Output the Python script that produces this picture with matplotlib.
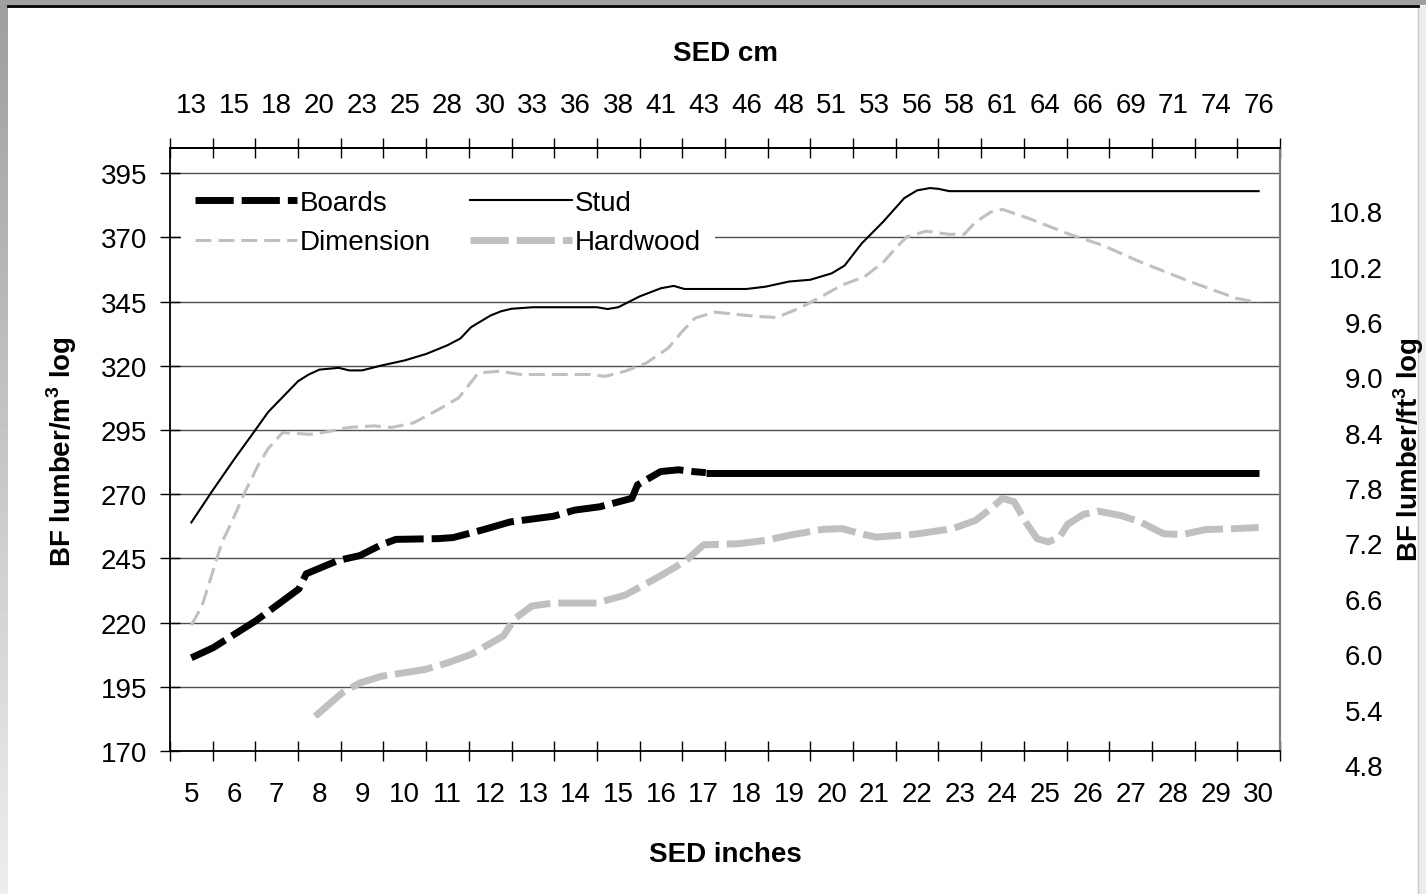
import numpy as np
import matplotlib
matplotlib.use('Agg')
import matplotlib.pyplot as plt
from matplotlib.patches import Rectangle
from matplotlib.ticker import FixedLocator

plt.rcParams['font.family'] = ['Liberation Sans', 'DejaVu Sans']
plt.rcParams['mathtext.fontset'] = 'custom'
plt.rcParams['mathtext.rm'] = 'Liberation Sans'
plt.rcParams['mathtext.bf'] = 'Liberation Sans:bold'

# --- data (SED in inches, BF lumber per m3 log) ---
inches = list(range(5, 31))
cm_labels = ['13', '15', '18', '20', '23', '25', '28', '30', '33', '36', '38', '41', '43',
             '46', '48', '51', '53', '56', '58', '61', '64', '66', '69', '71', '74', '76']
left_ticks = [170, 195, 220, 245, 270, 295, 320, 345, 370, 395]
right_ticks = [4.8, 5.4, 6.0, 6.6, 7.2, 7.8, 8.4, 9.0, 9.6, 10.2, 10.8]

boards_x = [5, 5.51, 6.51, 7.52, 7.69, 8.44, 8.95, 9.45, 9.79, 10.79, 11.13, 11.8, 12.47,
            13.06, 13.48, 13.98, 14.57, 15.32, 15.45, 15.99, 16.41, 16.75, 17.05, 30]
boards_y = [206.3, 210.2, 220.7, 233.1, 239, 244.2, 246.1, 250.3, 252.4, 252.7, 253.1, 256,
            259.2, 260.5, 261.4, 263.8, 265.1, 268.4, 273.6, 278.8, 279.5, 278.8, 278.4, 278.4]

stud_x = [5, 5.5, 6, 6.5, 6.8, 7.5, 7.75, 8, 8.45, 8.7, 9, 9.45, 10, 10.5, 11, 11.3, 11.55,
          12, 12.25, 12.5, 13, 14.5, 14.75, 15, 15.5, 16, 16.3, 16.55, 18, 18.45, 19, 19.5,
          20, 20.3, 20.7, 21.2, 21.7, 22, 22.3, 22.5, 22.75, 30]
stud_y = [259, 271.5, 283.5, 295, 302, 314, 316.6, 318.5, 319.2, 318.2, 318.2, 320.1, 322.1,
          324.6, 328, 330.6, 335, 339.5, 341.2, 342.2, 342.8, 342.8, 342.1, 342.8, 347, 350.2,
          351.1, 349.9, 349.9, 350.8, 352.8, 353.5, 356, 359, 367.6, 376, 385.3, 388.3, 389.2,
          388.9, 388, 388]

dim_x = [5, 5.25, 5.72, 5.93, 6.26, 6.56, 6.8, 7.14, 7.77, 8.19, 8.69, 9.28, 9.7, 10.21,
         10.79, 11.26, 11.51, 11.72, 12.22, 12.72, 14.32, 14.7, 15.16, 15.66, 16.17, 16.5,
         16.8, 17.26, 17.72, 18.26, 18.71, 19.24, 19.61, 20.24, 20.77, 21.22, 21.49, 21.76,
         22.21, 22.75, 23.1, 23.37, 23.73, 24.0, 24.63, 25.52, 26.33, 27.22, 28.39, 29.47, 30]
dim_y = [219, 226.5, 251.4, 258.6, 271, 281.1, 287.8, 294, 293.3, 294.3, 296, 296.6, 296,
         297.8, 303, 307.5, 312.7, 317.2, 317.9, 316.6, 316.6, 315.9, 317.9, 321.1, 326.9,
         333.4, 338.6, 340.9, 340.1, 339.2, 338.8, 342.4, 345.6, 351.4, 354.7, 360.5, 365.7,
         370.2, 372.4, 371.2, 371.2, 376, 379.9, 380.9, 377.3, 371.5, 367, 360.5, 352.8,
         346.3, 344.6]

hw_x = [7.9, 8.53, 8.95, 9.45, 10.46, 10.96, 11.55, 12.31, 12.56, 12.98, 13.48, 14.49, 15.16,
        16.0, 16.59, 17.0, 17.81, 18.44, 19.07, 19.79, 20.24, 20.68, 21.04, 21.94, 22.84,
        23.37, 23.73, 24.0, 24.27, 24.54, 24.81, 25.07, 25.34, 25.52, 25.89, 26.25, 26.79,
        27.23, 27.77, 28.22, 28.75, 29.46, 30]
hw_y = [183.5, 192.6, 196.5, 199.1, 201.7, 204.1, 207.6, 214.8, 221.3, 226.5, 227.6, 227.6,
        230.7, 238.3, 244.2, 250.3, 250.7, 252, 254.2, 256.3, 256.6, 254.6, 253.3, 254.4,
        256.6, 259.8, 264.4, 268.4, 267.1, 259.2, 252.7, 251.4, 253.3, 258.2, 262.1, 263.4,
        261.6, 259.2, 254.6, 254.3, 256.2, 256.6, 257]

W, H = 1426, 895
fig = plt.figure(figsize=(W / 100, H / 100), dpi=100)


def px(x0, y0, x1, y1):
    # pixel box (top-left origin) -> figure fraction
    return [x0 / W, 1 - y1 / H, (x1 - x0) / W, (y1 - y0) / H]


# grey frame round the chart
bg = fig.add_axes([0, 0, 1, 1], zorder=-10)
grad = np.linspace(0.62, 0.93, 200)[:, None]
bg.imshow(grad, cmap='gray', vmin=0, vmax=1, extent=[0, 8, H, 0], aspect='auto')
bg.add_patch(Rectangle((0, 0), W, 6, color='#a0a0a0', lw=0))
bg.add_patch(Rectangle((1418, 7), 8, H, color='#ececec', lw=0))
bg.plot([1418, 1418], [7, H], color='#c8c8c8', lw=1)
bg.plot([8, 1418], [6.5, 6.5], color='black', lw=2)
bg.set_xlim(0, W)
bg.set_ylim(H, 0)
bg.axis('off')

ax = fig.add_axes(px(170, 149, 1280, 752))
ax.set_xlim(4.5, 30.5)
ax.set_ylim(170, 404.8)

gray = '#c0c0c0'
ax.plot(dim_x, dim_y, color=gray, lw=2.2, dashes=(5.2, 2.3), label='Dimension')
ax.plot(hw_x, hw_y, color=gray, lw=5, dashes=(5.5, 1.15), dash_capstyle='butt',
        label='Hardwood')
ax.plot(stud_x, stud_y, color='black', lw=1.5, label='Stud')
k = boards_x.index(17.05) + 1
ax.plot(boards_x[:k], boards_y[:k], color='black', lw=5, dashes=(5.5, 1.15),
        dash_capstyle='butt', label='Boards')
ax.plot(boards_x[k - 1:], boards_y[k - 1:], color='black', lw=5, solid_capstyle='butt')

ax.set_yticks(left_ticks)
ax.grid(axis='y', color='#505050', lw=1)
ax.set_axisbelow(True)
ax.tick_params(axis='y', direction='inout', length=13.7, width=1, pad=9.7, labelsize=20)

ax.set_xticks(inches)
ax.tick_params(axis='x', which='major', length=0, pad=21.6, labelsize=20)
ax.xaxis.set_minor_locator(FixedLocator(np.arange(4.5, 31, 1)))
ax.tick_params(axis='x', which='minor', direction='inout', length=13.7, width=1)

for s in ['left', 'bottom', 'top']:
    ax.spines[s].set_linewidth(1.3)
ax.spines['right'].set_color('#808080')
ax.spines['right'].set_linewidth(1.6)

top = ax.secondary_xaxis('top')
top.set_xticks(inches, labels=cm_labels)
top.tick_params(which='major', length=0, pad=21.6, labelsize=20)
top.xaxis.set_minor_locator(FixedLocator(np.arange(4.5, 31, 1)))
top.tick_params(which='minor', direction='inout', length=13.7, width=1)
top.spines['top'].set_linewidth(1.3)

handles, labels = ax.get_legend_handles_labels()
order = [3, 0, 2, 1]
leg = ax.legend([handles[i] for i in order], [labels[i] for i in order], ncol=2,
                loc='upper left', bbox_to_anchor=((181 - 170) / 1110, (752 - 177) / 603),
                borderaxespad=0, fontsize=20, frameon=True, fancybox=False,
                framealpha=1, edgecolor='none', facecolor='white', handlelength=3.67,
                handletextpad=0.1, columnspacing=1.42, labelspacing=0.48, borderpad=0.5)

# right-hand scale (BF lumber per ft3 log)
rax = fig.add_axes(px(1390, 212.3, 1391, 765.9))
rax.set_ylim(4.8, 10.8)
rax.set_yticks(right_ticks, labels=['%.1f' % v for v in right_ticks])
rax.tick_params(axis='y', length=0, pad=5, labelsize=20)
rax.set_xticks([])
for s in rax.spines.values():
    s.set_visible(False)
rax.patch.set_alpha(0)

fig.text(725 / W, 1 - 54 / H, 'SED cm', ha='center', va='center', fontsize=20,
         fontweight='bold')
fig.text(725 / W, 1 - 855 / H, 'SED inches', ha='center', va='center', fontsize=20,
         fontweight='bold')
fig.text(62 / W, 1 - 452 / H, r'BF lumber/m$^\mathbf{3}$ log', ha='center', va='center',
         rotation=90, fontsize=20, fontweight='bold')
fig.text(1409 / W, 1 - 450 / H, r'BF lumber/ft$^\mathbf{3}$ log', ha='center', va='center',
         rotation=90, fontsize=20, fontweight='bold')

fig.savefig('out.png', dpi=100)
